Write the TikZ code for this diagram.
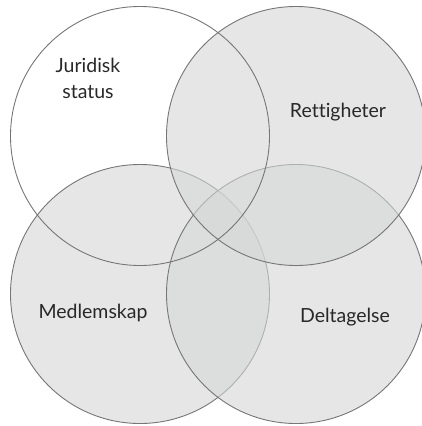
\documentclass[tikz,border=0pt]{standalone}
\usepackage{fontspec}
\setmainfont{Lato}[Ligatures=NoCommon]
\usetikzlibrary{positioning}
\definecolor{venngray}{RGB}{213,214,214}
\definecolor{vennline}{RGB}{118,118,118}
\definecolor{venntext}{RGB}{40,40,40}
\newcommand\venncirc[3]{\node(#1)[venn,#3] at #2 {};}

\begin{document}
\begin{tikzpicture}[x=1pt,y=-1pt,
    venn/.style={circle,draw=vennline,line width=0.9pt,minimum size=259pt,inner sep=0pt},
    shade/.style={fill=venngray,fill opacity=0.6},
    lbl/.style={text=venntext,font=\fontsize{19.5}{26}\selectfont,align=center,anchor=base}]
    \useasboundingbox (0,0) rectangle (421,426);
    \venncirc{med}{(140,294)}{shade}
    \venncirc{del}{(296,294)}{shade}
    \venncirc{ret}{(296,136)}{shade}
    \venncirc{jur}{(140,136)}{}
    \node(jurtxt)[lbl] at (88,98) {Juridisk\\status};
    \node(rettxt)[lbl] at (338,117) {Rettigheter};
    \node(medtxt)[lbl] at (93,318) {Medlemskap};
    \node(deltxt)[lbl] at (345,322) {Deltagelse};
\end{tikzpicture}
\end{document}
